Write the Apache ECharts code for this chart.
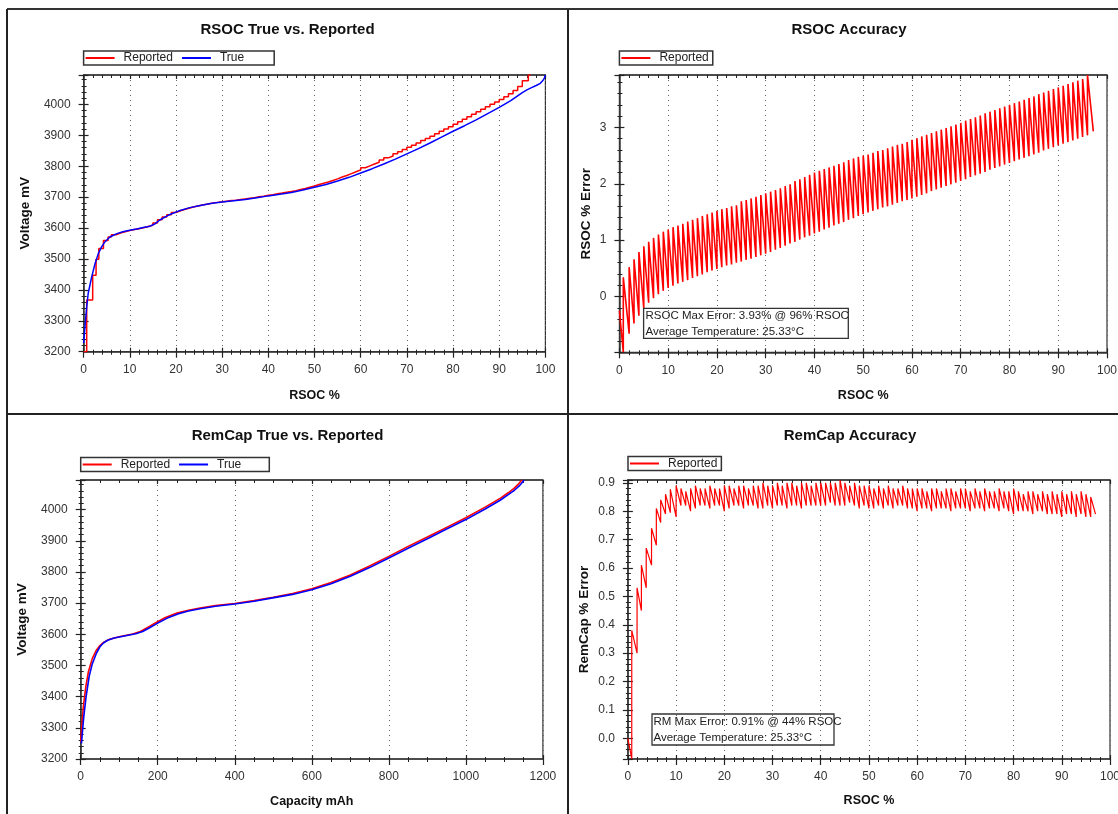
<!DOCTYPE html>
<html>
<head>
<meta charset="utf-8">
<script src="https://cdn.jsdelivr.net/npm/echarts@6/dist/echarts.min.js"></script>
<style>
html,body{margin:0;padding:0;background:#fff;}
#c{width:1118px;height:814px;}
</style>
</head>
<body>
<div id="c"></div>
<script>
// ---------- Panel 1: RSOC True vs. Reported (Voltage mV vs RSOC %) ----------
const rsocTrueX = [0,0.3,0.67,1,1.75,2.5,3.2,3.9,4.6,5.7,7.2,8.5,10,11.5,12.9,14.4,15.5,16.5,18.7,20.9,23,25,27.5,30,32.5,35,37.5,40,42.5,45,47.5,50,52.5,55,57.5,60,62.5,65,67.5,70,72.5,75,77.5,80,82.5,85,87.5,90,92.5,95,96,97,98,98.9,99.5,99.8,100];
const rsocTrueV = [3228,3280,3345,3389,3442,3486,3518,3539,3555,3571,3582,3588,3593,3597,3602,3606,3614,3626,3644,3657,3666,3672,3679,3684,3688,3692,3698,3704,3709,3715,3723,3732,3741,3752,3764,3778,3792,3807,3823,3840,3857,3875,3894,3913,3931,3950,3970,3990,4012,4038,4047,4054,4061,4068,4078,4086,4095];
const rsocRepX = [0,0.67,1.97,2.7,3.3,4.3,5.3,
  6,7,8,9,10,11,12,13,14,15,16,17,18,19,20,21,22,23,24,25,26,27,28,29,30,
  31,32,33,34,35,36,37,38,39,40,41,42,43,44,45,46,47,48,49,50,
  51,52,53,54,55,56,57,58,59,60,61,62,63,64,65,66,67,68,69,70,
  71,72,73,74,75,76,77,78,79,80,81,82,83,84,85,86,87,88,89,90,
  91,92,93,94,95,96.3,96.8];
const rsocRepV = [3200,3367,3447,3499,3534,3560,3571,
  3578,3584,3588,3592,3595,3598,3601,3605,3609,3616,3627,3636,3643,3650,3656,3661,3665,3669,3672,3675,3678,3681,3683,3685,3687,
  3689,3690,3692,3694,3696,3698,3701,3703,3706,3708,3711,3713,3716,3718,3721,3725,3728,3732,3736,3741,
  3745,3749,3754,3759,3765,3770,3776,3782,3788,3795,3801,3807,3813,3820,3827,3833,3840,3847,3854,3861,
  3868,3875,3883,3890,3897,3905,3913,3920,3928,3936,3944,3952,3960,3968,3976,3984,3992,4000,4008,4016,
  4025,4034,4045,4058,4076,4095,4095];

// ---------- Panel 2: RSOC Accuracy (RSOC % Error vs RSOC %) ----------
const rsocErrStart = [0, -0.25];
const rsocErrEnd = [97.2, 2.93];
const rsocErrX = [0.8,2,3,4,5,6,7,8,9,10,11,12,13,14,15,16,17,18,19,20,21,22,23,24,25,26,27,28,29,30,
  31,32,33,34,35,36,37,38,39,40,41,42,43,44,45,46,47,48,49,50,51,52,53,54,55,56,57,58,59,60,
  61,62,63,64,65,66,67,68,69,70,71,72,73,74,75,76,77,78,79,80,81,82,83,84,85,86,87,88,89,90,
  91,92,93,94,95,96];
const rsocErrLo = [-0.99,-0.66,-0.48,-0.34,-0.21,-0.11,-0.03,0.04,0.10,0.15,
  0.19,0.23,0.26,0.29,0.33,0.36,0.39,0.43,0.46,0.49,
  0.52,0.55,0.57,0.60,0.62,0.65,0.67,0.70,0.73,0.76,
  0.79,0.83,0.86,0.90,0.94,0.97,1.01,1.05,1.08,1.12,
  1.15,1.19,1.22,1.26,1.29,1.32,1.36,1.39,1.43,1.46,
  1.49,1.52,1.55,1.58,1.60,1.63,1.66,1.69,1.71,1.74,
  1.77,1.80,1.83,1.87,1.90,1.93,1.96,1.99,2.02,2.05,
  2.08,2.12,2.15,2.18,2.21,2.25,2.28,2.31,2.34,2.37,
  2.40,2.43,2.46,2.49,2.52,2.55,2.59,2.62,2.65,2.68,
  2.71,2.74,2.77,2.80,2.83,2.86];
const rsocErrHi = [0.34,0.52,0.66,0.79,0.89,0.97,1.04,1.10,1.15,1.19,
  1.23,1.26,1.29,1.33,1.36,1.39,1.43,1.46,1.49,1.52,
  1.55,1.57,1.60,1.62,1.69,1.71,1.74,1.77,1.80,1.83,
  1.86,1.89,1.92,1.96,1.99,2.05,2.08,2.12,2.16,2.20,
  2.23,2.26,2.29,2.32,2.35,2.38,2.42,2.45,2.48,2.50,
  2.52,2.55,2.58,2.60,2.63,2.66,2.69,2.71,2.74,2.78,
  2.81,2.84,2.87,2.90,2.93,2.96,2.99,3.02,3.05,3.08,
  3.12,3.15,3.18,3.21,3.25,3.28,3.31,3.34,3.37,3.40,
  3.43,3.46,3.49,3.52,3.55,3.59,3.62,3.65,3.68,3.71,
  3.74,3.77,3.80,3.83,3.86,3.93];

// ---------- Panel 3: RemCap True vs. Reported (Voltage mV vs Capacity mAh) ----------
const capTrueX = [2,5,8,14,22,30,41,50,59,70,87,110,143,161,180,200,225,254,280,310,350,400,450,495,550,600,650,700,750,800,850,904,950,1000,1050,1089,1110,1126,1140,1147,1151];
const capTrueV = [3250,3295,3336,3400,3465,3505,3540,3560,3572,3581,3588,3594,3602,3609,3622,3636,3652,3666,3675,3682,3690,3697,3706,3716,3728,3743,3762,3786,3814,3845,3876,3909,3938,3968,4002,4030,4048,4062,4078,4088,4095];
const capRepX = [0,3,7,13,20,30,40,50,60,75,100,135,155,175,195,220,250,280,310,350,400,450,500,550,600,650,700,750,800,850,900,950,1000,1050,1090,1110,1125,1135,1142,1146];
const capRepV = [3255,3310,3370,3430,3480,3522,3548,3564,3575,3584,3592,3601,3609,3623,3637,3654,3668,3677,3684,3692,3699,3708,3719,3731,3746,3766,3790,3819,3850,3882,3912,3943,3974,4008,4037,4054,4068,4080,4090,4095];

// ---------- Panel 4: RemCap Accuracy (RemCap % Error vs RSOC %) ----------
const remErrStart = [0, 0.0];
const remErrEnd = [97, 0.79];
const remErrX = [0.8,1.9,2.8,3.8,4.9,5.9,6.8,7.8,8.8,10,11,12,13,14,15,16,17,18,19,20,21,22,23,24,25,26,27,28,29,30,
  31,32,33,34,35,36,37,38,39,40,41,42,43,44,45,46,47,48,49,50,51,52,53,54,55,56,57,58,59,60,
  61,62,63,64,65,66,67,68,69,70,71,72,73,74,75,76,77,78,79,80,81,82,83,84,85,86,87,88,89,90,
  91,92,93,94,95,96];
const remErrLo = [-0.073,0.30,0.45,0.53,0.61,0.68,0.76,0.79,0.795,0.78,
  0.82,0.82,0.80,0.81,0.82,0.82,0.81,0.82,0.82,0.80,
  0.81,0.82,0.82,0.81,0.82,0.82,0.81,0.81,0.82,0.81,
  0.82,0.82,0.81,0.82,0.82,0.81,0.82,0.82,0.82,0.82,
  0.82,0.83,0.82,0.82,0.82,0.83,0.82,0.81,0.82,0.81,
  0.81,0.82,0.81,0.82,0.81,0.82,0.82,0.81,0.81,0.80,
  0.81,0.81,0.80,0.81,0.81,0.81,0.80,0.81,0.81,0.81,
  0.80,0.81,0.81,0.80,0.81,0.81,0.80,0.81,0.80,0.79,
  0.80,0.80,0.80,0.79,0.80,0.80,0.79,0.79,0.79,0.78,
  0.79,0.79,0.78,0.79,0.78,0.78];
const remErrHi = [0.38,0.53,0.61,0.67,0.74,0.81,0.84,0.86,0.877,0.89,
  0.88,0.87,0.88,0.89,0.88,0.88,0.89,0.88,0.88,0.89,
  0.89,0.88,0.89,0.89,0.88,0.89,0.89,0.90,0.89,0.89,
  0.90,0.89,0.90,0.90,0.89,0.90,0.90,0.89,0.90,0.90,
  0.90,0.90,0.90,0.91,0.90,0.89,0.90,0.89,0.89,0.89,
  0.88,0.89,0.88,0.89,0.88,0.88,0.89,0.88,0.88,0.88,
  0.88,0.87,0.88,0.88,0.87,0.88,0.88,0.87,0.88,0.88,
  0.87,0.88,0.87,0.88,0.87,0.87,0.88,0.87,0.87,0.88,
  0.87,0.86,0.87,0.87,0.86,0.87,0.86,0.87,0.86,0.87,
  0.86,0.87,0.86,0.87,0.86,0.85];

// ---------- Texts ----------
const panelTitles = ['RSOC True vs. Reported', 'RSOC Accuracy', 'RemCap True vs. Reported', 'RemCap Accuracy'];
const rsocNote = 'RSOC Max Error: 3.93% @ 96% RSOC\nAverage Temperature: 25.33°C';
const remNote = 'RM Max Error: 0.91% @ 44% RSOC\nAverage Temperature: 25.33°C';

// ---------- helpers ----------
const FONT = '"Liberation Sans", Arial, Helvetica, sans-serif';
function zip(xs, ys) { return xs.map((x, i) => [x, ys[i]]); }
function teeth(start, xs, lo, hi, end) {
  const pts = [start];
  xs.forEach((x, i) => { pts.push([x, lo[i]]); pts.push([x, hi[i]]); });
  pts.push(end);
  return pts;
}
const AX = '#333';
const plainFmt = v => String(Math.round(v * 1000) / 1000);
function xAxes(gi, min, max, split, minorSplit, name, nameGap) {
  const base = { type: 'value', gridIndex: gi, min: min, max: max, splitNumber: split };
  return [
    Object.assign({}, base, {
      position: 'bottom', name: name, nameLocation: 'middle', nameGap: nameGap,
      nameTextStyle: { fontFamily: FONT, fontSize: 12.5, fontWeight: 'bold', color: '#111' },
      axisLine: { show: true, onZero: false, lineStyle: { color: AX, width: 1.5 } },
      axisTick: { show: true, inside: false, length: 6, lineStyle: { color: '#222', width: 1.2 } },
      minorTick: { show: true, splitNumber: minorSplit, length: 3, lineStyle: { color: '#222', width: 1 } },
      axisLabel: { show: true, margin: 12, fontFamily: FONT, fontSize: 12, color: '#333', formatter: plainFmt },
      splitLine: { show: true, lineStyle: { color: '#666', width: 1, type: [1, 4] } },
      minorSplitLine: { show: false }
    }),
    Object.assign({}, base, {
      position: 'bottom',
      axisLine: { show: false, onZero: false },
      axisTick: { show: true, inside: true, length: 4, lineStyle: { color: '#222', width: 1.2 } },
      minorTick: { show: true, splitNumber: minorSplit, length: 2, lineStyle: { color: '#222', width: 1 } },
      axisLabel: { show: false }, splitLine: { show: false }
    }),
    Object.assign({}, base, {
      position: 'top',
      axisLine: { show: true, onZero: false, lineStyle: { color: AX, width: 1.5 } },
      axisTick: { show: true, inside: true, length: 4, lineStyle: { color: '#222', width: 1.2 } },
      minorTick: { show: true, splitNumber: minorSplit, length: 3, lineStyle: { color: '#222', width: 1 } },
      axisLabel: { show: false }, splitLine: { show: false }
    })
  ];
}
function yAxes(gi, min, max, split, minorSplit, name, nameGap, fmt, showMin) {
  const base = { type: 'value', gridIndex: gi, min: min, max: max, splitNumber: split };
  return [
    Object.assign({}, base, {
      position: 'left', name: name, nameLocation: 'middle', nameGap: nameGap,
      nameTextStyle: { fontFamily: FONT, fontSize: 13.5, fontWeight: 'bold', color: '#111' },
      axisLine: { show: true, onZero: false, lineStyle: { color: AX, width: 1.5 } },
      axisTick: { show: true, inside: false, length: 5, lineStyle: { color: '#222', width: 1.2 } },
      minorTick: { show: true, splitNumber: minorSplit, length: 2, lineStyle: { color: '#222', width: 1 } },
      axisLabel: { show: true, margin: 13, fontFamily: FONT, fontSize: 12, color: '#333',
        showMinLabel: showMin, showMaxLabel: false, formatter: fmt },
      splitLine: { show: false }, minorSplitLine: { show: false }
    }),
    Object.assign({}, base, {
      position: 'left',
      axisLine: { show: false, onZero: false },
      axisTick: { show: true, inside: true, length: 5, lineStyle: { color: '#222', width: 1.2 } },
      minorTick: { show: true, splitNumber: minorSplit, length: 3, lineStyle: { color: '#222', width: 1 } },
      axisLabel: { show: false }, splitLine: { show: false }
    })
  ];
}
const RED = '#ff0000', BLUE = '#0000ff';
function lineSeries(name, gi, data, color, width, step) {
  return {
    type: 'line', name: name, xAxisIndex: gi * 3, yAxisIndex: gi * 2, data: data,
    showSymbol: false, symbol: 'none', step: step || false, smooth: false,
    lineStyle: { color: color, width: width }, itemStyle: { color: color },
    animation: false, silent: true, clip: true
  };
}
const legendCommon = {
  orient: 'horizontal', icon: 'rect', itemWidth: 29, itemHeight: 2, itemGap: 9,
  borderColor: '#333', borderWidth: 1.5, selectedMode: false,
  textStyle: { fontFamily: FONT, fontSize: 12, color: '#222', padding: [0, 0, 0, 4] }
};
const grids = [
  { left: 83.6, top: 75, width: 461.8, height: 276.7 },
  { left: 619.4, top: 75, width: 487.6, height: 277.3 },
  { left: 80.7, top: 480, width: 462.2, height: 279 },
  { left: 627.9, top: 480, width: 482.1, height: 279 }
].map(g => Object.assign({ show: true, borderColor: AX, borderWidth: 1.2, backgroundColor: 'transparent', containLabel: false, outerBoundsMode: 'none' }, g));

const intFmt = v => String(Math.round(v));
const dec1 = v => (Math.abs(v) < 1e-9 ? 0 : v).toFixed(1);
const errFmt = v => String(Math.round(v));

function titleText(x, y, text) {
  return { type: 'text', x: x, y: y, style: { text: text, fontFamily: FONT, fontSize: 15, fontWeight: 'bold', fill: '#111', align: 'center', verticalAlign: 'middle' } };
}
function noteText(x, y, text) {
  return { type: 'text', z: 10, x: x, y: y, style: { text: text, fontFamily: FONT, fontSize: 11.5, fontWeight: 'normal', lineHeight: 15.5, fill: '#222', align: 'left', verticalAlign: 'top' } };
}

const option = {
  backgroundColor: '#fff',
  animation: false,
  grid: grids,
  xAxis: [].concat(
    xAxes(0, 0, 100, 10, 5, 'RSOC %', 37),
    xAxes(1, 0, 100, 10, 5, 'RSOC %', 37),
    xAxes(2, 0, 1200, 6, 4, 'Capacity mAh', 36),
    xAxes(3, 0, 100, 10, 5, 'RSOC %', 35)
  ),
  yAxis: [].concat(
    yAxes(0, 3200, 4095, 9, 5, 'Voltage mV', 51, intFmt, true),
    yAxes(1, -0.99, 3.93, 5, 5, 'RSOC % Error', 26, errFmt, false),
    yAxes(2, 3200, 4095, 9, 5, 'Voltage mV', 51, intFmt, true),
    yAxes(3, -0.073, 0.91, 10, 5, 'RemCap % Error', 37, dec1, false)
  ),
  legend: [
    Object.assign({}, legendCommon, { left: 83.6, top: 51, padding: [1, 30, 1, 2], data: ['Reported', 'True'] }),
    Object.assign({}, legendCommon, { left: 619.4, top: 51, padding: [1, 4, 1, 2], data: ['Reported'] }),
    Object.assign({}, legendCommon, { left: 80.7, top: 457.5, padding: [1, 28, 1, 2], data: ['Reported', 'True'] }),
    Object.assign({}, legendCommon, { left: 628, top: 456.5, padding: [1, 4, 1, 2], data: ['Reported'] })
  ],
  series: [
    lineSeries('Reported', 0, zip(rsocRepX, rsocRepV), RED, 1.5, 'end'),
    lineSeries('True', 0, zip(rsocTrueX, rsocTrueV), BLUE, 1.5),
    lineSeries('Reported', 1, teeth(rsocErrStart, rsocErrX, rsocErrLo, rsocErrHi, rsocErrEnd), RED, 1.6),
    lineSeries('Reported', 2, zip(capRepX, capRepV), RED, 1.6),
    lineSeries('True', 2, zip(capTrueX, capTrueV), BLUE, 1.6),
    lineSeries('Reported', 3, teeth(remErrStart, remErrX, remErrLo, remErrHi, remErrEnd), RED, 1.2)
  ],
  graphic: [
    { type: 'line', shape: { x1: 7, y1: 9, x2: 1118, y2: 9 }, style: { stroke: '#333', lineWidth: 2 } },
    { type: 'line', shape: { x1: 7, y1: 9, x2: 7, y2: 814 }, style: { stroke: '#222', lineWidth: 2 } },
    { type: 'line', shape: { x1: 568, y1: 9, x2: 568, y2: 814 }, style: { stroke: '#222', lineWidth: 2 } },
    { type: 'line', shape: { x1: 7, y1: 414, x2: 1118, y2: 414 }, style: { stroke: '#222', lineWidth: 2 } },
    titleText(287.5, 30, panelTitles[0]),
    titleText(849, 30, panelTitles[1]),
    titleText(287.5, 436, panelTitles[2]),
    titleText(850, 436, panelTitles[3]),
    { type: 'rect', z: 10, shape: { x: 643.6, y: 308.3, width: 204.7, height: 30 }, style: { fill: 'rgba(255,255,255,0)', stroke: '#333', lineWidth: 1.3 } },
    noteText(645.5, 308.5, rsocNote),
    { type: 'rect', z: 10, shape: { x: 652, y: 714, width: 182, height: 31 }, style: { fill: 'rgba(255,255,255,0)', stroke: '#333', lineWidth: 1.3 } },
    noteText(653.5, 714.5, remNote)
  ]
};

const chart = echarts.init(document.getElementById('c'), null, { renderer: 'canvas', width: 1118, height: 814 });
chart.setOption(option);
</script>
</body>
</html>
